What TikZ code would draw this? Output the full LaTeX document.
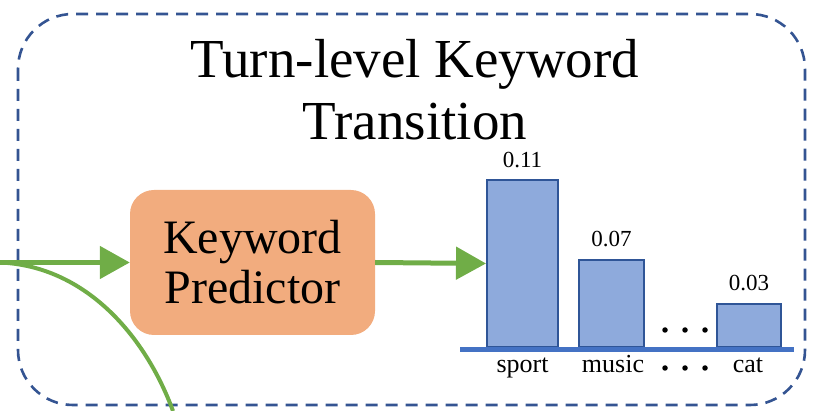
\documentclass[tikz,border=0pt]{standalone}
\usepackage{fontspec}
\setmainfont{Liberation Serif}
\usetikzlibrary{arrows.meta}
\definecolor{frameblue}{RGB}{52,84,146}
\definecolor{arrowgreen}{RGB}{112,173,71}
\definecolor{predorange}{RGB}{242,172,126}
\definecolor{barfill}{RGB}{142,170,220}
\definecolor{baredge}{RGB}{47,85,151}
\definecolor{axisblue}{RGB}{68,114,196}
\tikzset{
  x=1pt, y=-1pt,
  frame/.style={draw=frameblue, line width=2.6pt, dash pattern=on 12pt off 8pt, rounded corners=55pt},
  predbox/.style={fill=predorange, rounded corners=24pt, minimum width=245pt, minimum height=145pt,
    align=center, font=\fontsize{48}{50}\selectfont, inner sep=0pt},
  bar/.style={fill=barfill, draw=baredge, line width=2pt, anchor=south, inner sep=0pt},
  flow/.style={draw=arrowgreen, line width=5pt, -{Triangle[length=30pt,width=32pt]}},
  value/.style={font=\fontsize{23}{26}\selectfont, anchor=base},
  word/.style={font=\fontsize{26}{28}\selectfont, anchor=base},
  dot/.style={circle, fill=black, inner sep=0pt, minimum size=5.5pt}
}
\begin{document}
\begin{tikzpicture}
\useasboundingbox (0,0) rectangle (819,411);
% dashed group frame
\draw[frame] (18,14) rectangle (805,405);
% title, two lines
\node[font=\fontsize{55}{62}\selectfont, anchor=base] (title1) at (415,78) {Turn-level Keyword};
\node[font=\fontsize{55}{62}\selectfont, anchor=base] (title2) at (415,140) {Transition};
% keyword predictor
\node[predbox] (kp) at (252.5,262.5) {Keyword\\Predictor};
% bar chart
\node[bar, minimum width=71pt, minimum height=167pt] (b1) at (522.5,348) {};
\node[bar, minimum width=65pt, minimum height=87pt] (b2) at (611.5,348) {};
\node[bar, minimum width=64pt, minimum height=43pt] (b3) at (749,348) {};
\coordinate (axl) at (460,350);
\coordinate (axr) at (794,350);
\draw[axisblue, line width=5pt] (axl) -- (axr);
\node[value] (v1) at (522.5,168) {0.11};
\node[value] (v2) at (611.5,247) {0.07};
\node[value] (v3) at (749,291) {0.03};
\node[word] (w1) at (522.5,373) {sport};
\node[word] (w2) at (613,373) {music};
\node[word] (w3) at (748,373) {cat};
\foreach \i/\xx in {1/665,2/685,3/705}{
  \node[dot] (u\i) at (\xx,330) {};
  \node[dot] (l\i) at (\xx,368) {};
}
% incoming flow and branch
\coordinate (in) at (0,262.5);
\coordinate (out) at (173,411);
\draw[flow] (in) -- (kp.west);
\draw[flow] (kp.east) -- (b1.west);
\draw[arrowgreen, line width=4pt] (in) .. controls (85,266) and (145,335) .. (out);
\end{tikzpicture}
\end{document}
